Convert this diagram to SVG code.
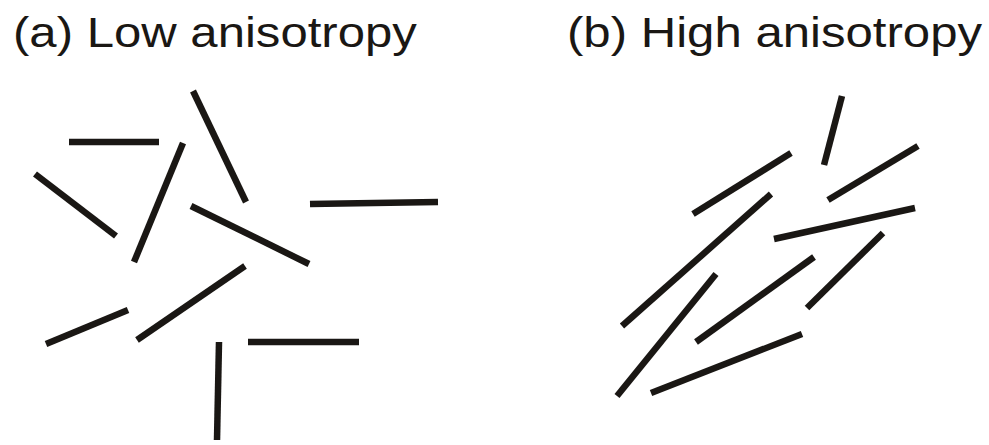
<svg xmlns="http://www.w3.org/2000/svg" width="989" height="445" viewBox="0 0 989 445">
<style>
.t{font-family:"Liberation Sans",Arial,sans-serif;font-size:43px;fill:#1a1714}
.r line{stroke:#1a1714;stroke-width:6.5;stroke-linecap:butt}
</style>
<rect width="989" height="445" fill="#fff"/>
<g id="label-a" transform="translate(13,46.5) scale(1.142,1)"><text class="t" x="0" y="0">(a) Low anisotropy</text></g>
<g id="label-b" transform="translate(567,46.5) scale(1.143,1)"><text class="t" x="0" y="0">(b) High anisotropy</text></g>
<g id="panel-a" class="r">
<line x1="69" y1="142" x2="159" y2="142"/>
<line x1="35" y1="174" x2="116" y2="236"/>
<line x1="183" y1="143" x2="134" y2="262"/>
<line x1="193" y1="91" x2="246" y2="202"/>
<line x1="310" y1="204" x2="438" y2="202"/>
<line x1="191" y1="206" x2="309" y2="264"/>
<line x1="46" y1="344" x2="128" y2="310"/>
<line x1="137" y1="340" x2="245" y2="266"/>
<line x1="219" y1="342" x2="217" y2="440"/>
<line x1="248" y1="342" x2="359" y2="342"/>
</g>
<g id="panel-b" class="r">
<line x1="842" y1="96" x2="824" y2="165"/>
<line x1="693" y1="214" x2="791" y2="153"/>
<line x1="828" y1="200" x2="918" y2="146"/>
<line x1="774" y1="239" x2="915" y2="208"/>
<line x1="771" y1="194" x2="622" y2="326"/>
<line x1="883" y1="233" x2="807" y2="308"/>
<line x1="814" y1="257" x2="696" y2="342"/>
<line x1="716" y1="274" x2="617" y2="396"/>
<line x1="802" y1="334" x2="651" y2="393"/>
</g>
</svg>
